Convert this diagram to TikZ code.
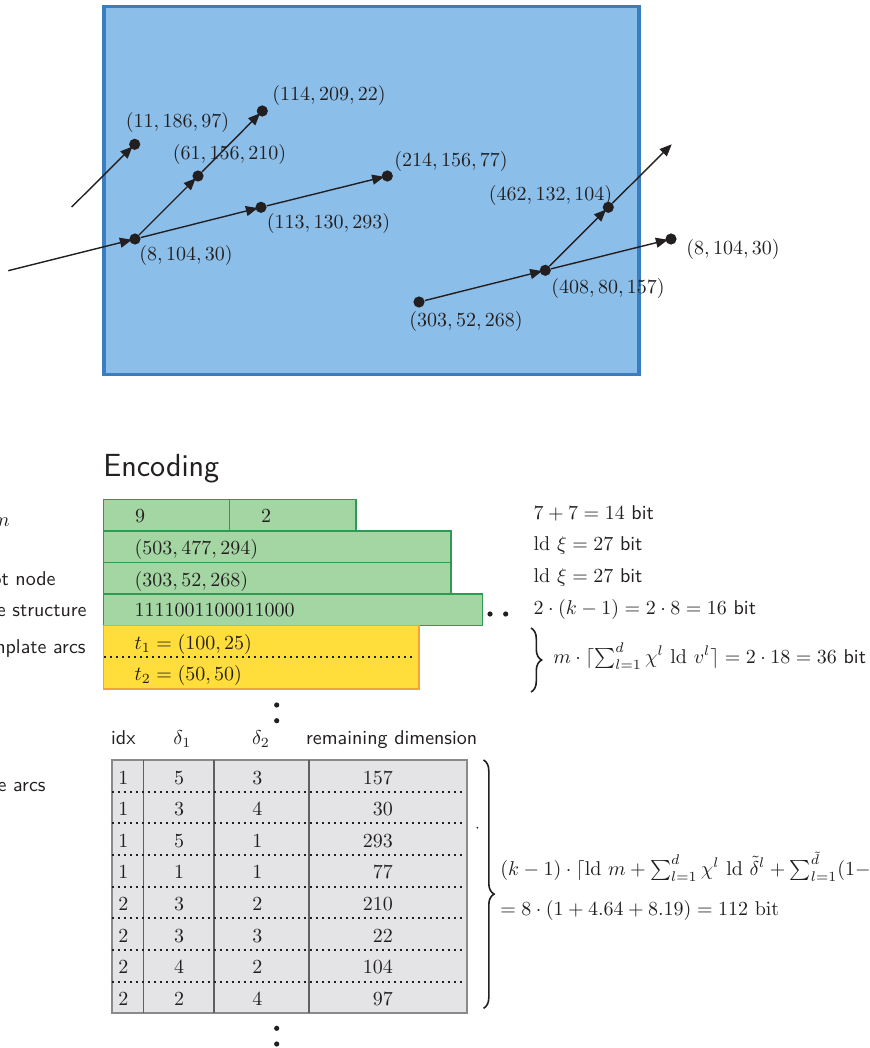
\documentclass[tikz,border=0pt]{standalone}
\usepackage{xcolor}
\definecolor{ink}{HTML}{231F20}
\definecolor{sky}{HTML}{8BBEE8}
\definecolor{skyline}{HTML}{3A7EBF}
\definecolor{leaf}{HTML}{A3D6A3}
\definecolor{leafline}{HTML}{2E9B55}
\definecolor{sun}{HTML}{FFDD3A}
\definecolor{sunline}{HTML}{F2A33A}
\definecolor{slate}{HTML}{E4E4E6}
\definecolor{slateline}{HTML}{8A8A8A}
\definecolor{colline}{HTML}{5F5F5F}
\usepackage{amsmath,amssymb}
\usepackage{tikz}
\usetikzlibrary{arrows.meta, positioning, calc, decorations.pathreplacing}
\newcommand{\Ld}{\ensuremath{\mathrm{ld}}}

\begin{document}
\begin{tikzpicture}[
  x=0.5pt, y=-0.5pt,
  vertex/.style={circle, fill=ink, minimum size=5.6pt, inner sep=0pt},
  arc/.style={-{Triangle[length=6pt,width=5pt]}, ink, line width=0.7pt, shorten >=-1.4pt},
  tag/.style={inner sep=0pt, text=ink},
  field/.style={fill=leaf, draw=leafline, line width=0.8pt},
  tmpl/.style={fill=sun, draw=sunline, line width=0.8pt},
  cut/.style={ink, line width=0.9pt, dash pattern=on 0.9pt off 2.1pt},
  dotmark/.style={circle, fill=ink, minimum size=2.6pt, inner sep=0pt},
  side/.style={inner sep=0pt, anchor=base east, font=\sffamily, text=ink},
  cost/.style={inner sep=0pt, anchor=base west, text=ink},
  cell/.style={inner sep=0pt, anchor=base, text=ink},
  hbrace/.style={decorate, decoration={brace, amplitude=5.3pt}, ink, line width=0.8pt}
]
  \useasboundingbox (0,0) rectangle (870,1048);

  \draw[fill=sky, draw=skyline, line width=1.75pt] (104,6.7) rectangle (639,374.7);

  \coordinate (in1) at (8.3,270.7);
  \coordinate (in2) at (71.7,207);
  \coordinate (out1) at (671.7,144.3);
  \node[vertex] (v8) at (135,239) {};
  \node[vertex] (v11) at (134.7,144.3) {};
  \node[vertex] (v61) at (198,176) {};
  \node[vertex] (v114) at (262.3,111) {};
  \node[vertex] (v113) at (261,207.3) {};
  \node[vertex] (v214) at (387.3,176) {};
  \node[vertex] (v303) at (419,302) {};
  \node[vertex] (v408) at (545.3,270.3) {};
  \node[vertex] (v462) at (608.3,207.3) {};
  \node[vertex] (v8b) at (671,239) {};

  \draw[arc] (in1) -- (v8);
  \draw[arc] (in2) -- (v11);
  \draw[arc] (v8) -- (v61);
  \draw[arc] (v61) -- (v114);
  \draw[arc] (v8) -- (v113);
  \draw[arc] (v113) -- (v214);
  \draw[arc] (v303) -- (v408);
  \draw[arc] (v408) -- (v462);
  \draw[arc, shorten >=0pt] (v462) -- (out1);
  \draw[arc] (v408) -- (v8b);

  \node[tag] (t8) at (186,255) {$(8,104,30)$};
  \node[tag] (t11) at (177.5,123) {$(11,186,97)$};
  \node[tag] (t61) at (229.5,155) {$(61,156,210)$};
  \node[tag] (t114) at (329,96) {$(114,209,22)$};
  \node[tag] (t113) at (328.5,223) {$(113,130,293)$};
  \node[tag] (t214) at (451,162) {$(214,156,77)$};
  \node[tag] (t303) at (466,321) {$(303,52,268)$};
  \node[tag] (t408) at (608,288) {$(408,80,157)$};
  \node[tag] (t462) at (550.5,195) {$(462,132,104)$};
  \node[tag] (t8b) at (733,250) {$(8,104,30)$};

  \node[inner sep=0pt, anchor=base west, text=ink, font=\sffamily\fontsize{16}{19}\selectfont]
    (title) at (103,476.7) {Encoding};

  \draw[field] (103.3,499.3) rectangle (229.3,530.7);
  \draw[field] (229.3,499.3) rectangle (356,530.7);
  \draw[field] (103.3,530.7) rectangle (450.7,562.5);
  \draw[field] (103.3,562.5) rectangle (450.7,594);
  \draw[field] (103.3,594) rectangle (482.3,625.3);
  \draw[tmpl] (103.3,625.3) rectangle (418.7,688.7);
  \draw[cut] (104,657.3) -- (413,657.3);

  \node[cell] (f1) at (140,522.7) {$9$};
  \node[cell] (f2) at (266,522.7) {$2$};
  \node[cost] (f3) at (134.3,554.3) {$(503,477,294)$};
  \node[cost] (f4) at (134.3,586.7) {$(303,52,268)$};
  \node[cost] (f5) at (134.3,616.7) {$1111001100011000$};
  \node[cost] (f6) at (134.3,649.3) {$t_1=(100,25)$};
  \node[cost] (f7) at (134.3,680) {$t_2=(50,50)$};

  \node[side, font=\normalfont] (s1) at (10,526) {$m$};
  \node[side] (s2) at (56,585.3) {ot node};
  \node[side] (s3) at (87,616.7) {e structure};
  \node[side] (s4) at (86,653.3) {mplate arcs};
  \node[side] (s5) at (46,791) {e arcs};

  \node[dotmark] (g1) at (490,614) {};
  \node[dotmark] (g2) at (505.7,614) {};
  \node[dotmark] (e1) at (276.7,705) {};
  \node[dotmark] (e2) at (276.7,720.7) {};
  \node[dotmark] (e3) at (276.7,1028.3) {};
  \node[dotmark] (e4) at (276.7,1044) {};
  \node[dotmark, minimum size=1pt] (e5) at (477.3,827.7) {};

  \node[cost] (c1) at (533.3,519.5) {$7+7=14$ \textsf{bit}};
  \node[cost] (c2) at (533.3,550.5) {$\Ld\ \xi=27$ \textsf{bit}};
  \node[cost] (c3) at (533.3,582) {$\Ld\ \xi=27$ \textsf{bit}};
  \node[cost] (c4) at (533.3,614) {$2\cdot(k-1)=2\cdot 8=16$ \textsf{bit}};
  \coordinate (b1s) at (531,628);
  \coordinate (b1e) at (531,692);
  \draw[hbrace] (b1s) -- (b1e);
  \node[cost] (c5) at (553,663)
    {$m\cdot\lceil\sum_{l=1}^{d}\chi^l\ \Ld\ v^l\rceil=2\cdot 18=36$ \textsf{bit}};

  \node[cell, font=\sffamily] (h1) at (123.3,744.3) {idx};
  \node[cell] (h2) at (182.3,744.3) {$\delta_1$};
  \node[cell] (h3) at (261,744.3) {$\delta_2$};
  \node[cell, font=\sffamily] (h4) at (391.7,744.3) {remaining dimension};

  \draw[fill=slate, draw=slateline, line width=1pt] (111.7,760) rectangle (466.7,1013.3);
  \foreach \x in {143.3,214,309}
    \draw[colline, line width=0.8pt] (\x,760) -- (\x,1013.3);
  \foreach \k in {1,...,7}
    \draw[cut] (111.7,{760+31.67*\k}) -- (462,{760+31.67*\k});
  \foreach \ix/\da/\db/\rd [count=\n] in {1/5/3/157, 1/3/4/30, 1/5/1/293, 1/1/1/77,
      2/3/2/210, 2/3/3/22, 2/4/2/104, 2/2/4/97} {
    \node[cell] (i\n) at (123.3,{784+31.6*(\n-1)}) {$\ix$};
    \node[cell] (a\n) at (179,{784+31.6*(\n-1)}) {$\da$};
    \node[cell] (b\n) at (257.3,{784+31.6*(\n-1)}) {$\db$};
    \node[cell, anchor=base east] (r\n) at (393.3,{784+31.6*(\n-1)}) {$\rd$};
  }

  \coordinate (b2s) at (483.5,760);
  \coordinate (b2e) at (483.5,1008.3);
  \draw[hbrace, decoration={aspect=0.54}] (b2s) -- (b2e);
  \node[cost] (c6) at (500,875)
    {$(k-1)\cdot\lceil\Ld\ m+\sum_{l=1}^{d}\chi^l\ \Ld\ \tilde{\delta}^l+\sum_{l=1}^{\tilde{d}}(1-$};
  \node[cost] (c7) at (500,915.7) {$=8\cdot(1+4.64+8.19)=112\ \mathrm{bit}$};
\end{tikzpicture}
\end{document}
